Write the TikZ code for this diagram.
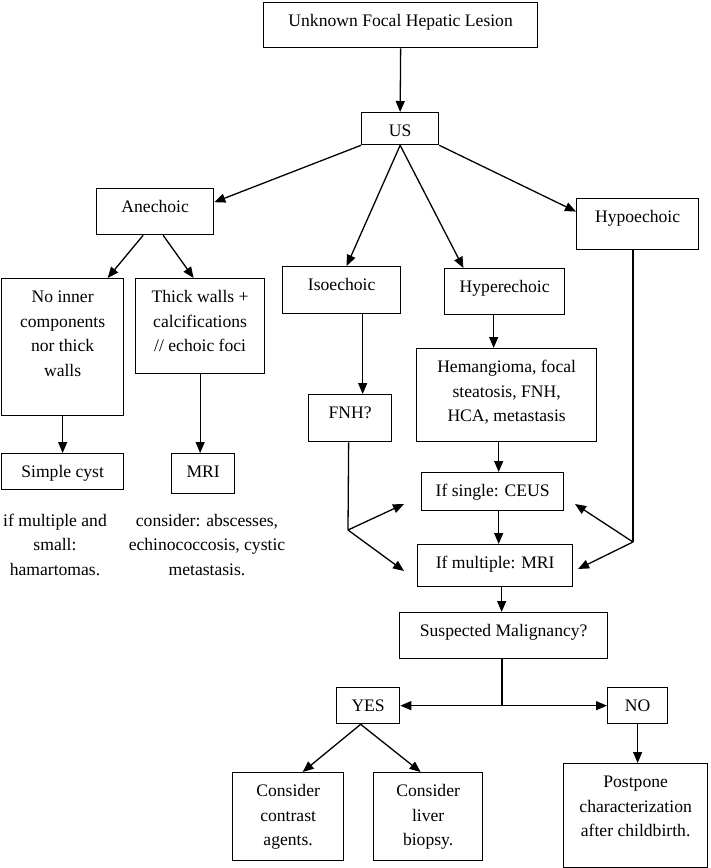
\documentclass[tikz,border=0pt]{standalone}
\usepackage{fontspec}
\setmainfont{Liberation Serif}
\usetikzlibrary{arrows.meta,calc}
\newcommand\bt[3]{\parbox[c][#2pt][t]{#1pt}{\centering\vspace*{7pt}\strut #3}}
\tikzset{
  every node/.style={font=\fontsize{17.6}{24.5}\selectfont},
  bx/.style={draw, line width=1.3pt, inner sep=0pt, anchor=north west},
  ft/.style={align=center, inner sep=0pt, anchor=north},
  ln/.style={line width=1.3pt},
  arr/.style={line width=1.3pt, -{Triangle[length=11pt,width=9pt]}},
  darr/.style={line width=1.3pt, {Triangle[length=11pt,width=9pt]}-{Triangle[length=11pt,width=9pt]}}
}
\begin{document}
\begin{tikzpicture}[x=1pt,y=-1pt]
\useasboundingbox (0,0) rectangle (710,868);
% boxes
\node[bx] (top) at (263,1.5) {\bt{274}{45.5}{Unknown Focal Hepatic Lesion}};
\node[bx] (us) at (361,112) {\bt{77}{32}{US}};
\node[bx] (ane) at (96,188) {\bt{117}{46}{Anechoic}};
\node[bx] (hypo) at (576,198) {\bt{122}{51}{Hypoechoic}};
\node[bx] (iso) at (282,266) {\bt{118}{47}{Isoechoic}};
\node[bx] (hyper) at (444,268) {\bt{120}{46}{Hyperechoic}};
\node[bx] (noin) at (1,278) {\bt{122}{137}{No inner\\ components\\ nor thick\\ walls}};
\node[bx] (thick) at (135,278) {\bt{129}{95}{Thick walls +\\ calcifications\\ // echoic foci}};
\node[bx] (hem) at (416,348) {\bt{180}{93}{Hemangioma, focal\\ steatosis, FNH,\\ HCA, metastasis}};
\node[bx] (fnh) at (308,394) {\bt{83}{47}{FNH?}};
\node[bx] (simple) at (1,453) {\bt{122}{36}{Simple cyst}};
\node[bx] (mril) at (171,453) {\bt{63}{40}{MRI}};
\node[bx] (ceus) at (421,472) {\bt{142}{38}{If single: CEUS}};
\node[bx] (mrim) at (417,544) {\bt{155}{42}{If multiple: MRI}};
\node[bx] (susp) at (399,612) {\bt{208}{46}{Suspected Malignancy?}};
\node[bx] (yes) at (336,687) {\bt{63}{36}{YES}};
\node[bx] (no) at (607,687) {\bt{60}{36}{NO}};
\node[bx] (contr) at (232,772) {\bt{111}{88}{Consider\\ contrast\\ agents.}};
\node[bx] (liver) at (373,772) {\bt{109}{88}{Consider\\ liver\\ biopsy.}};
\node[bx] (post) at (563,763) {\bt{144}{104}{Postpone\\ characterization\\ after childbirth.}};
% free texts
\node[ft] (t1) at (55,509) {\strut if multiple and\\ small:\\ hamartomas.};
\node[ft] (t2) at (207,509) {\strut consider: abscesses,\\ echinococcosis, cystic\\ metastasis.};
% coordinates
\coordinate (fb) at (348,530);
\coordinate (fbu) at (404,504);
\coordinate (fbd) at (404,571);
\coordinate (hb) at (633,542);
\coordinate (hbu) at (575,504);
\coordinate (hbd) at (578,569);
\coordinate (sp) at (502,705);
% connectors
\draw[arr] (top.south) -- (us.north);
\draw[arr] (us.south west) -- ($(ane.north east)!0.3!(ane.south east)$);
\draw[arr] (us.south) -- ([xshift=5pt]iso.north);
\draw[arr] (us.south) -- ($(hyper.north west)!0.16!(hyper.north east)$);
\draw[arr] (us.south east) -- ($(hypo.north west)!0.26!(hypo.south west)$);
\draw[arr] ([xshift=-12pt]ane.south) -- ([xshift=45pt]noin.north);
\draw[arr] ([xshift=8pt]ane.south) -- ([xshift=-6.5pt]thick.north);
\draw[arr] ([xshift=21pt]iso.south) -- ([xshift=12.5pt]fnh.north);
\draw[arr] ([xshift=-11pt]hyper.south) -- ([xshift=-13pt]hem.north);
\draw[arr] ([xshift=-8pt]hem.south) -- ([xshift=6pt]ceus.north);
\draw[arr] ([xshift=6pt]ceus.south) -- ([xshift=3.5pt]mrim.north);
\draw[arr] ([xshift=6.5pt]mrim.south) -- ([xshift=-2pt]susp.north);
\draw[arr] (noin.south) -- (noin.south |- simple.north);
\draw[arr] (thick.south) -- (thick.south |- mril.north);
\draw[ln] ([xshift=-1.5pt]fnh.south) -- (fb);
\draw[arr] (fb) -- (fbu);
\draw[arr] (fb) -- (fbd);
\draw[ln] (hypo.south -| hb) -- (hb);
\draw[arr] (hb) -- (hbu);
\draw[arr] (hb) -- (hbd);
\draw[ln] (susp.south -| sp) -- (sp);
\draw[darr] (yes.east) -- (no.west);
\draw[arr] ([xshift=-7.5pt]yes.south) -- ([xshift=14.5pt]contr.north);
\draw[arr] ([xshift=-7.5pt]yes.south) -- ([xshift=-7.5pt]liver.north);
\draw[arr] (no.south) -- (no.south |- post.north);
\end{tikzpicture}
\end{document}
